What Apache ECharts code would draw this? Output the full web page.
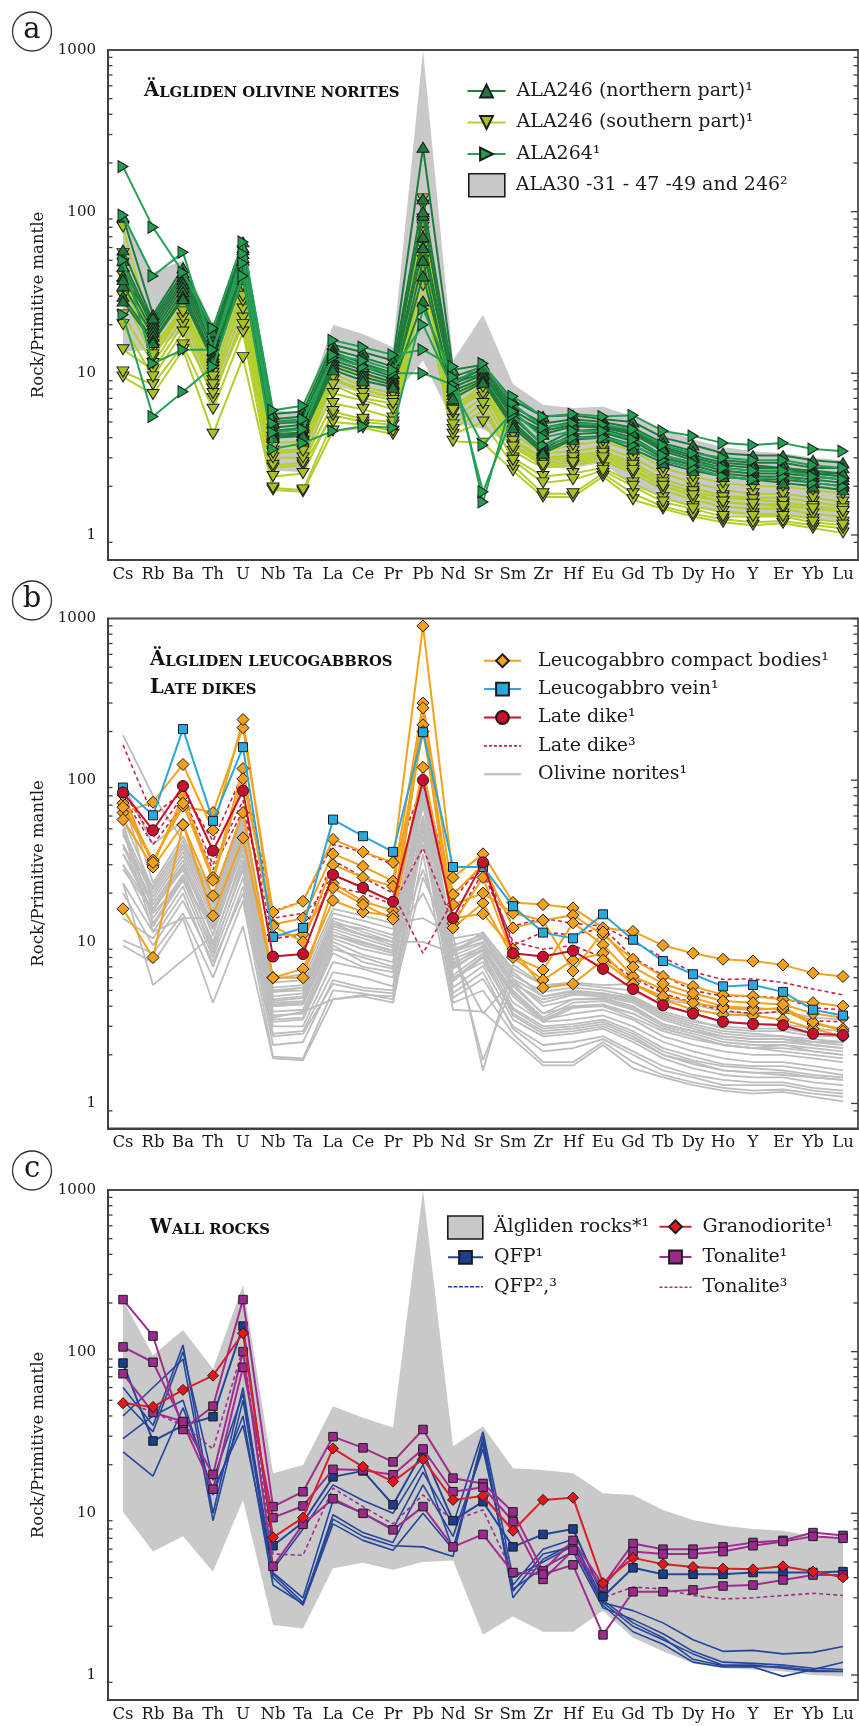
<!DOCTYPE html>
<html>
<head>
<meta charset="utf-8">
<script src="https://cdn.jsdelivr.net/npm/echarts@6/dist/echarts.min.js"></script>
<style>
  html, body { margin: 0; padding: 0; background: #ffffff; }
  #chart { width: 859px; height: 1726px; }
</style>
</head>
<body>
<div id="chart"></div>
<script>
// ---- Trace elements (x axis) ----
const ELEMENTS = ['Cs','Rb','Ba','Th','U','Nb','Ta','La','Ce','Pr','Pb','Nd','Sr','Sm','Zr','Hf','Eu','Gd','Tb','Dy','Ho','Y','Er','Yb','Lu'];
const Y_LABELS = [1, 10, 100, 1000];

// ---- (a) Älgliden olivine norites, rock / primitive mantle ----
const ala246North = [
  [93, 23, 45, 19, 65, 5.6, 5.8, 15, 13.5, 12, 250, 10.5, 11.3, 6.8, 5.4, 5.5, 5.2, 5.0, 4.0, 3.6, 3.2, 3.1, 3.1, 2.9, 2.8],
  [58, 21, 40, 17, 58, 5.2, 5.4, 14, 12.5, 11, 120, 9.5, 11, 6.2, 4.9, 5.2, 5.0, 4.6, 3.7, 3.3, 2.9, 2.8, 2.8, 2.6, 2.6],
  [50, 20, 38, 16, 55, 4.9, 5.0, 13.5, 11.5, 10, 95, 9, 10.5, 5.9, 4.6, 5.0, 4.8, 4.4, 3.5, 3.1, 2.8, 2.7, 2.6, 2.5, 2.4],
  [46, 19, 36, 15, 52, 4.6, 4.8, 12.5, 11, 9.5, 70, 8.7, 10, 5.6, 4.2, 4.7, 4.6, 4.2, 3.3, 2.9, 2.6, 2.5, 2.5, 2.4, 2.3],
  [40, 18, 34, 14, 50, 4.4, 4.6, 12, 10.5, 9.2, 60, 8.2, 9.8, 5.3, 3.6, 4.4, 4.5, 4.0, 3.1, 2.8, 2.5, 2.4, 2.4, 2.3, 2.2],
  [35, 17, 32, 13, 45, 4.2, 4.3, 11.5, 10, 8.8, 40, 7.8, 9.3, 5.0, 3.4, 4.2, 4.3, 3.8, 3.0, 2.7, 2.4, 2.3, 2.3, 2.2, 2.1],
  [30, 16, 30, 12.5, 42, 4.1, 4.2, 11, 9.5, 8.5, 28, 7.4, 9.0, 4.8, 3.3, 4.0, 4.1, 3.6, 2.9, 2.6, 2.3, 2.2, 2.2, 2.1, 2.0],
  [28, 15.5, 29, 12, 38, 4.0, 4.1, 10.5, 9, 8.2, 50, 7.0, 8.8, 4.6, 3.2, 3.9, 4.0, 3.4, 2.8, 2.5, 2.3, 2.2, 2.1, 2.0, 1.9],
  [38, 22, 42, 18, 60, 5.0, 5.2, 13, 11, 10, 100, 8.5, 10.8, 5.5, 4.4, 4.8, 4.7, 4.3, 3.4, 3.0, 2.7, 2.6, 2.6, 2.4, 2.4]
];
const ala246South = [
  [9.5, 7.4, 14, 4.2, 12.5, 1.9, 1.85, 4.4, 4.6, 4.2, 35, 3.8, 3.7, 2.5, 1.72, 1.72, 2.3, 1.65, 1.45, 1.3, 1.2, 1.15, 1.18, 1.1, 1.03],
  [10.2, 8.5, 15, 6, 18, 1.95, 1.9, 5.0, 4.8, 4.4, 45, 4.2, 5.0, 2.7, 1.8, 1.8, 2.4, 1.8, 1.5, 1.35, 1.25, 1.2, 1.22, 1.15, 1.1],
  [14, 10.5, 20, 7, 22, 2.6, 2.7, 5.5, 5, 4.8, 50, 4.5, 5.9, 3.0, 2.3, 2.4, 2.6, 2.1, 1.7, 1.5, 1.4, 1.35, 1.35, 1.25, 1.2],
  [23, 11.5, 22, 8, 25, 2.7, 2.8, 6.5, 6, 5.3, 60, 5.2, 7.1, 3.3, 2.6, 2.7, 2.9, 2.4, 1.9, 1.65, 1.5, 1.45, 1.45, 1.35, 1.3],
  [30, 12.5, 24, 9, 28, 3.0, 3.0, 7.5, 6.8, 6, 75, 5.7, 8.0, 3.6, 2.8, 2.9, 3.1, 2.6, 2.0, 1.8, 1.6, 1.55, 1.55, 1.45, 1.4],
  [40, 14, 26, 10, 32, 3.3, 3.4, 9, 8, 7, 90, 6.2, 8.5, 3.9, 3.0, 3.1, 3.3, 2.8, 2.2, 1.95, 1.75, 1.7, 1.7, 1.6, 1.5],
  [80, 17, 30, 11, 38, 3.7, 3.8, 10, 8.3, 7.5, 120, 6.8, 9.0, 4.2, 3.2, 3.3, 3.5, 3.0, 2.4, 2.1, 1.9, 1.8, 1.8, 1.7, 1.6],
  [20, 9.5, 18, 7.5, 20, 2.3, 2.4, 5.8, 5.2, 5, 55, 4.8, 6.5, 2.9, 2.1, 2.2, 2.5, 2.0, 1.6, 1.45, 1.3, 1.3, 1.3, 1.2, 1.15],
  [48, 16, 28, 9.5, 35, 3.5, 3.6, 9.5, 7.5, 6.8, 80, 6.0, 7.5, 3.8, 2.9, 3.0, 3.2, 2.7, 2.1, 1.85, 1.7, 1.65, 1.6, 1.5, 1.45],
  [55, 13, 25, 8.5, 30, 3.2, 3.3, 8.5, 7, 6.5, 110, 5.9, 8.2, 3.5, 2.7, 2.8, 3.0, 2.5, 2.0, 1.75, 1.6, 1.55, 1.5, 1.45, 1.4],
  [35, 15, 24, 12, 40, 4.0, 4.1, 11, 9.8, 8.8, 85, 7.2, 9.5, 4.8, 3.3, 3.6, 3.8, 3.3, 2.6, 2.3, 2.1, 2.0, 2.0, 1.9, 1.8]
];
const ala264 = [
  [190, 80, 42, 19, 65, 5.9, 6.3, 16, 14.5, 13, 14, 11, 1.6, 7.2, 5.4, 5.6, 5.4, 5.5, 4.4, 4.1, 3.7, 3.6, 3.7, 3.4, 3.3],
  [95, 40, 56, 14, 55, 4.9, 5.2, 12.5, 11, 10, 10, 8.5, 11.5, 6.5, 4.6, 4.9, 4.8, 4.5, 3.6, 3.2, 3.0, 2.9, 2.9, 2.7, 2.6],
  [23, 5.4, 7.7, 11, 40, 3.4, 3.7, 4.4, 4.7, 4.6, 25, 9.5, 1.85, 5.5, 3.6, 4.0, 4.0, 3.6, 2.9, 2.6, 2.3, 2.2, 2.3, 2.1, 2.0],
  [50, 11.5, 14, 14, 48, 4.3, 4.5, 13, 12, 10.5, 20, 8, 3.6, 5.8, 4.0, 4.4, 4.4, 3.9, 3.1, 2.8, 2.6, 2.5, 2.5, 2.3, 2.2]
];
const norBandUpper = [95, 42, 50, 20, 68, 5.9, 5.7, 20, 17.5, 14.5, 1000, 12, 23, 8.6, 6.4, 6.1, 6.2, 5.4, 4.5, 3.9, 3.5, 3.3, 3.2, 3.0, 2.9];
const norBandLower = [13.6, 14, 18, 7.4, 20, 2.5, 2.45, 8.5, 7.5, 7, 12, 5, 4.5, 3.6, 2.6, 2.6, 2.8, 2.0, 1.72, 1.5, 1.35, 1.3, 1.3, 1.26, 1.22];

// ---- (b) Leucogabbros and late dikes ----
const compactBodies = [
  [72, 32, 69, 63, 211, 15.3, 17.8, 43, 36, 31, 900, 25, 35, 17.5, 17, 16.2, 12.2, 11.6, 9.5, 8.5, 7.8, 7.6, 7.2, 6.4, 6.1],
  [63, 73, 125, 49, 237, 12.8, 14, 35, 29.3, 23.7, 300, 19.6, 30, 12.2, 13.6, 14.6, 11, 7.8, 6.1, 5.3, 4.7, 4.6, 4.4, 4.2, 4.0],
  [81, 30, 80, 25, 118, 11, 11.1, 23, 17.8, 15.6, 280, 13, 25, 8.1, 6.7, 13.1, 9.6, 6.1, 5.1, 4.5, 4.0, 3.9, 3.8, 3.1, 2.9],
  [57, 29, 53, 14.5, 44, 6.0, 6.8, 18, 15.3, 14.5, 220, 12.2, 17.4, 8.0, 5.8, 7.7, 8.5, 5.5, 4.4, 3.8, 3.55, 3.5, 3.3, 2.9, 2.6],
  [16, 8, 53, 19.3, 63, 6.0, 6.0, 21.6, 17, 13.8, 120, 14, 14.9, 9, 5.2, 5.5, 7.7, 5.5, 4.6, 4.2, 3.9, 3.8, 3.9, 3.2, 2.8],
  [68, 31, 72, 24, 102, 12.5, 10, 30, 25, 22, 200, 17, 20, 15, 13.6, 6.6, 11.5, 7.0, 5.5, 4.8, 4.3, 4.2, 4.1, 3.6, 3.4]
];
const leucoVein = [90, 60.6, 207, 56, 160, 10.7, 12.2, 57, 45, 36, 198, 29, 29, 16.6, 11.4, 10.5, 14.8, 10.3, 7.6, 6.3, 5.3, 5.4, 4.9, 3.8, 3.5];
const lateDike1 = [84, 49, 92, 36.6, 86, 8.1, 8.4, 26, 21.6, 17.7, 100, 14, 31, 8.5, 8.1, 8.8, 6.8, 5.1, 4.05, 3.6, 3.2, 3.1, 3.05, 2.7, 2.65];
const lateDike3 = [
  [165, 60, 85, 42, 110, 15.5, 17.8, 40, 36, 30, 95, 20, 28, 12.5, 14, 13, 12.5, 10, 8, 6.5, 5.85, 5.9, 5.6, 5.1, 4.7],
  [85, 44, 80, 30, 75, 10.5, 11, 32, 25, 20, 8.5, 18, 31, 9.5, 11.5, 11, 12.2, 8, 6.2, 5, 4.6, 4.6, 4.5, 3.9, 3.8],
  [78, 40, 70, 28, 65, 14, 15, 22, 20, 17, 38, 13, 27, 10, 9, 9.5, 8, 6, 4.8, 4.2, 3.75, 3.6, 3.7, 3.25, 3.2]
];

// ---- (c) Wall rocks ----
const rockBandUpper = [208, 95, 136, 78, 258, 17.7, 19.9, 46, 39, 34, 1000, 26, 34.4, 19, 18.5, 17.7, 13.3, 13, 10.5, 9.1, 8.4, 8.0, 7.8, 7.2, 7.0];
const rockBandLower = [10.2, 5.8, 7.2, 4.35, 12.1, 2.04, 1.94, 4.57, 4.95, 4.47, 5, 5.1, 1.77, 2.3, 1.85, 1.85, 2.5, 1.7, 1.4, 1.18, 1.1, 1.08, 1.05, 1.0, 0.98];
const qfp1 = [85, 28, 35, 39.6, 144, 6.3, 8.8, 16.8, 18.3, 11.3, 24, 9.0, 11.8, 6.2, 7.4, 8.0, 3.05, 4.6, 4.2, 4.2, 4.2, 4.3, 4.3, 4.3, 4.36];
const qfp23 = [
  [60, 35, 110, 10, 60, 4.2, 2.8, 9.2, 7.2, 6.3, 6.2, 5.4, 30, 3.0, 5.2, 6.5, 2.8, 2.0, 1.65, 1.35, 1.15, 1.15, 1.1, 1.05, 1.05],
  [40, 60, 90, 9, 50, 4.0, 2.7, 8.6, 6.8, 5.9, 10, 6, 28, 3.3, 5.6, 6.2, 2.7, 1.85, 1.55, 1.2, 1.12, 1.12, 0.98, 1.08, 1.2],
  [29, 40, 50, 13, 40, 3.6, 2.75, 9.8, 7.6, 6.6, 15, 7.2, 25, 3.6, 6.0, 6.9, 2.9, 2.1, 1.7, 1.25, 1.14, 1.13, 1.12, 1.07, 1.05],
  [24, 17, 45, 14, 35, 4.3, 3.0, 12, 10, 8, 18, 8.5, 32, 4.0, 5.0, 6.3, 2.8, 2.5, 2.1, 1.65, 1.4, 1.42, 1.35, 1.38, 1.5],
  [50, 32, 100, 16, 55, 4.5, 8, 15, 12, 10, 20, 6, 27, 3.4, 4.6, 5.8, 2.6, 2.2, 1.8, 1.4, 1.2, 1.18, 1.15, 1.1, 1.08]
];
const granodiorite = [48, 45.5, 58, 71, 130, 7.1, 9.4, 25.2, 19.4, 15.7, 21.6, 12.1, 12.8, 7.8, 12.1, 12.5, 3.7, 5.3, 4.85, 4.65, 4.55, 4.5, 4.7, 4.36, 4.02];
const tonalite1 = [
  [210, 125, 33, 46, 210, 11, 13.6, 29.8, 25.4, 20.8, 33, 16.5, 15.3, 10.2, 4.4, 6.8, 3.6, 6.5, 6.0, 6.0, 6.2, 6.6, 6.8, 7.6, 7.3],
  [107, 86, 36, 14.1, 80, 9.4, 11.1, 18.7, 18.5, 17.3, 25, 13.6, 14.5, 8.9, 3.9, 5.9, 3.5, 5.8, 5.6, 5.6, 5.8, 6.3, 6.7, 7.2, 7.0],
  [73, 42, 37, 17.4, 100, 4.7, 8.55, 12.3, 10, 7.9, 11, 6.2, 7.4, 4.3, 4.2, 4.8, 1.77, 3.27, 3.27, 3.36, 3.55, 3.6, 3.87, 4.15, 4.15]
];
const tonalite3 = [50, 42, 35, 25, 105, 5.6, 5.5, 14.3, 11, 8.6, 13, 9, 10.5, 4.2, 4.6, 5.8, 3.0, 3.5, 3.4, 3.1, 2.95, 3.0, 3.1, 3.2, 3.1];

// ---------------------------------------------------------------
const FONT = 'DejaVu Serif';
const INK = '#1a1a1a';
const AXIS = '#3f3f3f';
const GRIDS = [
  { left: 108, top: 50, width: 750, height: 510 },
  { left: 108, top: 618.5, width: 750, height: 510 },
  { left: 108, top: 1190, width: 750, height: 510 }
];
const Y_MIN = 0.7, Y_MAX = 1000;

const chart = echarts.init(document.getElementById('chart'), null, { renderer: 'canvas' });

function isDecade(v) {
  const l = Math.log10(v);
  return Math.abs(l - Math.round(l)) < 1e-6;
}

function lines(gi, name, rows, s) {
  return rows.map(r => ({
    type: 'line', name, xAxisIndex: gi, yAxisIndex: gi, data: r,
    symbol: s.symbol, symbolSize: s.size || 10, symbolRotate: s.rotate || 0,
    showSymbol: s.symbol !== 'none',
    lineStyle: { color: s.line, width: s.width || 2, type: s.dash || 'solid' },
    itemStyle: { color: s.fill || s.line, borderColor: '#1b1b1b', borderWidth: s.symbol === 'none' ? 0 : 1 },
    z: s.z || 3, animation: false, silent: true, emphasis: { disabled: true }
  }));
}

function band(gi, name, upper, lower, color) {
  return {
    type: 'custom', name, xAxisIndex: gi, yAxisIndex: gi,
    data: [[0, lower[0]]], itemStyle: { color }, z: 1, silent: true, animation: false,
    renderItem: (params, api) => {
      const pts = [];
      upper.forEach((v, i) => pts.push(api.coord([i, v])));
      for (let i = lower.length - 1; i >= 0; i--) pts.push(api.coord([i, lower[i]]));
      return { type: 'polygon', shape: { points: pts }, style: { fill: color } };
    }
  };
}

const N_NORTH = 'ALA246 (northern part)¹';
const N_SOUTH = 'ALA246 (southern part)¹';
const N_264 = 'ALA264¹';
const N_BAND_A = 'ALA30 -31 - 47 -49 and 246²';
const N_COMPACT = 'Leucogabbro compact bodies¹';
const N_VEIN = 'Leucogabbro vein¹';
const N_DIKE1 = 'Late dike¹';
const N_DIKE3 = 'Late dike³';
const N_OLIV = 'Olivine norites¹';
const N_ROCKS = 'Älgliden rocks*¹';
const N_QFP1 = 'QFP¹';
const N_QFP23 = 'QFP²,³';
const N_GRANO = 'Granodiorite¹';
const N_TON1 = 'Tonalite¹';
const N_TON3 = 'Tonalite³';

const C = {
  north: { line: '#1e7a3d', fill: '#1f7a3c' },
  south: { line: '#b3cf2c', fill: '#a6c226' },
  r264: { line: '#25a055', fill: '#1ea050' },
  bandA: '#c9c9c9',
  orange: { line: '#f4a21c', fill: '#f5a01a' },
  blue: { line: '#2aa6dc', fill: '#29a8e0' },
  red: { line: '#c8102e', fill: '#c8102e' },
  dashRed: '#c3284a',
  gray: '#bdbdbd',
  bandC: '#c9c9c9',
  navy: { line: '#24469a', fill: '#1b3d8c' },
  grano: { line: '#d91f2a', fill: '#e8161b' },
  purple: { line: '#a02d8e', fill: '#9b2a8f' }
};

const series = [
  band(0, N_BAND_A, norBandUpper, norBandLower, C.bandA),
  ...lines(0, N_SOUTH, ala246South, { symbol: 'triangle', size: [12, 10], rotate: 180, line: C.south.line, fill: C.south.fill, z: 3 }),
  ...lines(0, N_NORTH, ala246North, { symbol: 'triangle', size: [12, 10], line: C.north.line, fill: C.north.fill, z: 4 }),
  ...lines(0, N_264, ala264, { symbol: 'triangle', size: [12, 10], rotate: -90, line: C.r264.line, fill: C.r264.fill, z: 5 }),

  ...lines(1, N_OLIV, [...ala246North, ...ala246South, ...ala264], { symbol: 'none', line: C.gray, width: 1.8, z: 2 }),
  ...lines(1, N_DIKE3, lateDike3, { symbol: 'none', line: C.dashRed, width: 1.6, dash: [4, 3], z: 3 }),
  ...lines(1, N_COMPACT, compactBodies, { symbol: 'diamond', size: 12, line: C.orange.line, fill: C.orange.fill, z: 4 }),
  ...lines(1, N_VEIN, [leucoVein], { symbol: 'rect', size: 9, line: C.blue.line, fill: C.blue.fill, z: 5 }),
  ...lines(1, N_DIKE1, [lateDike1], { symbol: 'circle', size: 11, line: C.red.line, fill: C.red.fill, z: 6 }),

  band(2, N_ROCKS, rockBandUpper, rockBandLower, C.bandC),
  ...lines(2, N_QFP23, qfp23, { symbol: 'none', line: C.navy.line, width: 1.6, z: 3 }),
  ...lines(2, N_TON3, [tonalite3], { symbol: 'none', line: C.purple.line, width: 1.6, dash: [4, 3], z: 3 }),
  ...lines(2, N_QFP1, [qfp1], { symbol: 'rect', size: 8.5, line: C.navy.line, fill: C.navy.fill, z: 4 }),
  ...lines(2, N_TON1, tonalite1, { symbol: 'rect', size: 8.5, line: C.purple.line, fill: C.purple.fill, z: 5 }),
  ...lines(2, N_GRANO, [granodiorite], { symbol: 'diamond', size: 11, line: C.grano.line, fill: C.grano.fill, z: 6 })
];

const xAxes = GRIDS.map((g, i) => ({
  type: 'category', gridIndex: i, data: ELEMENTS, boundaryGap: true,
  axisLine: { lineStyle: { color: AXIS, width: 1.8 } },
  axisTick: { inside: true, length: 7, interval: 0, lineStyle: { color: AXIS, width: 1.4 } },
  axisLabel: { interval: 0, margin: 6, fontFamily: FONT, fontSize: 16.5, color: INK }
}));

const yAxes = GRIDS.map((g, i) => ({
  type: 'log', logBase: 10, gridIndex: i, min: Y_MIN, max: Y_MAX,
  axisLine: { show: true, lineStyle: { color: AXIS, width: 1.8 } },
  axisTick: { inside: true, length: 7, lineStyle: { color: AXIS, width: 1.4 } },
  axisLabel: {
    margin: 12, fontFamily: FONT, fontSize: 15, color: INK,
    formatter: v => (isDecade(v) && Y_LABELS.includes(Math.round(v)) ? String(Math.round(v)) : '')
  },
  splitLine: { show: false },
  name: 'Rock/Primitive mantle', nameLocation: 'middle', nameRotate: 90, nameGap: 52,
  nameTextStyle: { fontFamily: FONT, fontSize: 16.5, color: INK }
}));

const legendText = { fontFamily: FONT, fontSize: 19, color: INK, lineHeight: 22 };
const legendBase = { orient: 'vertical', padding: 0, selectedMode: false, textStyle: legendText, itemHeight: 16 };
const rectIcon = { borderColor: '#1a1a1a', borderWidth: 1.6 };
// legend entries for plain (marker-less) lines: hide the marker, keep the stroke
const plainLine = (name, extra) => Object.assign({ name, itemStyle: { opacity: 0 } }, extra || {});

const legends = [
  Object.assign({}, legendBase, { left: 466.5, top: 80, itemWidth: 38, itemGap: 9.5,
    formatter: n => ' ' + n, data: [N_NORTH, N_SOUTH, N_264] }),
  Object.assign({}, legendBase, { left: 468, top: 173, itemWidth: 36, itemHeight: 23,
    formatter: n => ' ' + n,
    data: [{ name: N_BAND_A, icon: 'rect', itemStyle: Object.assign({ color: C.bandA }, rectIcon) }] }),
  Object.assign({}, legendBase, { left: 483, top: 649.7, itemWidth: 37, itemGap: 6.4,
    formatter: n => '  ' + n,
    data: [N_COMPACT, N_VEIN, N_DIKE1,
      plainLine(N_DIKE3, { lineStyle: { type: [3, 2], width: 1.6 } }),
      plainLine(N_OLIV)] }),
  Object.assign({}, legendBase, { left: 447, top: 1215.2, itemWidth: 35, itemHeight: 23,
    formatter: n => ' ' + n,
    data: [{ name: N_ROCKS, icon: 'rect', itemStyle: Object.assign({ color: C.bandC }, rectIcon) }] }),
  Object.assign({}, legendBase, { left: 447, top: 1246.3, itemWidth: 35, itemGap: 7.4,
    formatter: n => ' ' + n,
    data: [N_QFP1, plainLine(N_QFP23, { lineStyle: { type: [4, 1.5], width: 1.4 } })] }),
  Object.assign({}, legendBase, { left: 658.5, top: 1215.7, itemWidth: 32, itemGap: 8.3,
    formatter: n => ' ' + n,
    data: [N_GRANO, N_TON1, plainLine(N_TON3, { lineStyle: { type: [3, 2], width: 1.4 } })] })
];

function panelLetter(cx, cy, ch) {
  return [
    { type: 'circle', shape: { cx, cy, r: 19.5 }, style: { fill: 'none', stroke: '#333', lineWidth: 1.3 }, silent: true },
    { type: 'text', x: cx, y: cy - 1, style: { text: ch, fontFamily: FONT, fontSize: 29, fill: INK, align: 'center', verticalAlign: 'middle' }, silent: true }
  ];
}

const capRich = {
  b: { fontFamily: FONT, fontSize: 19.5, fontWeight: 'bold', fill: '#111', verticalAlign: 'bottom', lineHeight: 24 },
  s: { fontFamily: FONT, fontSize: 14.8, fontWeight: 'bold', fill: '#111', verticalAlign: 'bottom', lineHeight: 24 }
};
function smallCaps(x, y, big, rest) {
  return { type: 'text', x, y, silent: true,
    style: { text: '{b|' + big + '}{s|' + rest + '}', rich: capRich, verticalAlign: 'middle', align: 'left' } };
}

const staticGraphics = [
  ...panelLetter(32, 31.5, 'a'),
  ...panelLetter(32, 600.5, 'b'),
  ...panelLetter(32, 1170.5, 'c'),
  smallCaps(144, 89, 'Ä', 'LGLIDEN OLIVINE NORITES'),
  smallCaps(150, 658, 'Ä', 'LGLIDEN LEUCOGABBROS'),
  smallCaps(150, 686, 'L', 'ATE DIKES'),
  smallCaps(150, 1226, 'W', 'ALL ROCKS')
];

chart.setOption({
  backgroundColor: '#ffffff',
  animation: false,
  grid: GRIDS.map(g => Object.assign({ show: true, borderColor: '#4a4a4a', borderWidth: 1.8, backgroundColor: 'transparent' }, g)),
  xAxis: xAxes,
  yAxis: yAxes,
  legend: legends,
  series,
  graphic: staticGraphics
});

// Minor log ticks on the left and ticks on the right frame, placed through the y scales
function frameTicks() {
  const out = [];
  const tick = (x1, y, x2) => ({ type: 'line', silent: true, shape: { x1, y1: y, x2, y2: y },
    style: { stroke: AXIS, lineWidth: 1.3 } });
  GRIDS.forEach((g, gi) => {
    const xl = g.left, xr = g.left + g.width;
    for (let e = -1; e <= 3; e++) {
      for (let k = 1; k <= 9; k++) {
        const v = k * Math.pow(10, e);
        if (v > Y_MAX + 1e-9 || v < 0.85) continue;
        const y = chart.convertToPixel({ yAxisIndex: gi }, v);
        if (k === 1) {
          out.push(tick(xr, y, xr - 7));
        } else {
          out.push(tick(xl, y, xl + 4.5));
          out.push(tick(xr, y, xr - 4.5));
        }
      }
    }
  });
  return out;
}

chart.setOption({ graphic: staticGraphics.concat(frameTicks()) }, { replaceMerge: ['graphic'] });
</script>
</body>
</html>
